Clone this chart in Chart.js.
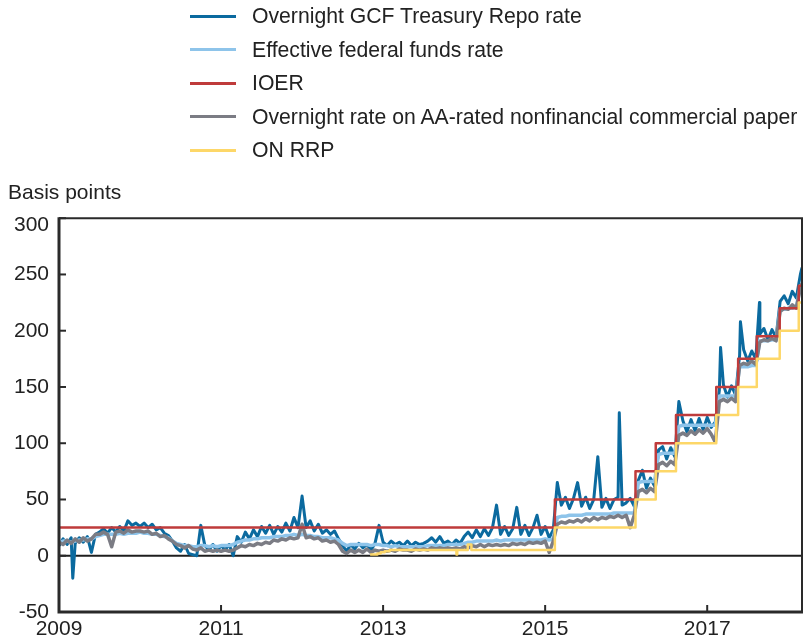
<!DOCTYPE html>
<html>
<head>
<meta charset="utf-8">
<script src="https://cdn.jsdelivr.net/npm/chart.js@4.4.1/dist/chart.umd.min.js"></script>
<style>
html,body{margin:0;padding:0;background:#fff;}
#wrap{position:relative;width:803px;height:644px;overflow:hidden;font-family:"Liberation Sans",Arial,sans-serif;}
#chart{position:absolute;left:0;top:0;}
#legend{position:absolute;left:190px;top:0;}
.item{position:absolute;left:0;height:34px;white-space:nowrap;display:flex;align-items:center;}
.swatch{width:46px;height:3px;margin-right:16px;}
.lbl{font-size:21.2px;color:#222;}
</style>
</head>
<body>
<div id="wrap"><canvas id="chart" width="803" height="644"></canvas><div id="legend"></div></div>
<script>
// ---- shared date grid (chart's own decimal-year axis) ----
const dates = [
2009.00,2009.05,2009.10,2009.15,2009.20,2009.25,2009.30,2009.35,2009.40,2009.45,
2009.50,2009.55,2009.60,2009.65,2009.70,2009.75,2009.80,2009.85,2009.90,2009.95,
2010.00,2010.05,2010.10,2010.15,2010.20,2010.25,2010.30,2010.35,2010.40,2010.45,
2010.50,2010.55,2010.60,2010.65,2010.70,2010.75,2010.80,2010.85,2010.90,2010.95,
2011.00,2011.05,2011.10,2011.15,2011.20,2011.25,2011.30,2011.35,2011.40,2011.45,
2011.50,2011.55,2011.60,2011.65,2011.70,2011.75,2011.80,2011.85,2011.90,2011.95,
2012.00,2012.05,2012.10,2012.15,2012.20,2012.25,2012.30,2012.35,2012.40,2012.45,
2012.50,2012.55,2012.60,2012.65,2012.70,2012.75,2012.80,2012.85,2012.90,2012.95,
2013.00,2013.05,2013.10,2013.15,2013.20,2013.25,2013.30,2013.35,2013.40,2013.45,
2013.50,2013.55,2013.60,2013.65,2013.70,2013.75,2013.80,2013.85,2013.90,2013.95,
2014.00,2014.05,2014.10,2014.15,2014.20,2014.25,2014.30,2014.35,2014.40,2014.45,
2014.50,2014.55,2014.60,2014.65,2014.70,2014.75,2014.80,2014.85,2014.90,2014.95,
2015.00,2015.05,2015.10,2015.15,2015.20,2015.25,2015.30,2015.35,2015.40,2015.45,
2015.50,2015.55,2015.60,2015.65,2015.70,2015.75,2015.80,2015.85,2015.90,2015.95,
2016.00,2016.05,2016.10,2016.15,2016.20,2016.25,2016.30,2016.35,2016.40,2016.45,
2016.50,2016.55,2016.60,2016.65,2016.70,2016.75,2016.80,2016.85,2016.90,2016.95,
2017.00,2017.05,2017.10,2017.15,2017.20,2017.25,2017.30,2017.35,2017.40,2017.45,
2017.50,2017.55,2017.60,2017.65,2017.70,2017.75,2017.80,2017.85,2017.90,2017.95,
2018.00,2018.05,2018.10,2018.15,2018.17
];

// Overnight GCF Treasury Repo rate
const gcfValues = [
9,15,10,16,11,16,12,17,3,19,
21,24,20,25,21,26,22,31,27,29,
26,29,25,28,23,25,20,18,13,7,
4,10,2,1,0,27,9,5,10,4,
9,5,10,0,17,12,21,15,23,17,
26,20,27,19,26,21,29,22,34,25,
53,25,31,22,28,20,23,19,22,15,
9,4,10,6,11,7,10,5,11,27,
12,9,13,10,12,9,13,9,12,10,
11,13,16,12,17,11,13,10,14,11,
17,21,16,23,17,24,18,25,45,19,
26,18,24,43,19,27,18,25,36,19,
26,16,23,65,45,52,42,51,65,44,
52,42,50,88,43,51,42,50,52,45,
47,51,44,67,76,60,69,62,94,97,
86,96,88,137,120,110,121,111,122,112,
123,114,119,147,152,141,151,143,178,183,
173,182,175,197,202,192,201,194,226,231,
224,235,229,250,256
];
const gcfSpikeDates  = [2009.17, 2015.915, 2017.165, 2017.41, 2017.645];
const gcfSpikeValues = [-20, 127, 185, 208, 225];

// Effective federal funds rate
const effrValues = [
12,13,13,12,13,14,14,15,15,17,
18,19,19,19,19,20,19,20,20,20,
21,20,20,19,19,18,17,16,13,11,
10,9,9,8,8,9,9,8,9,8,
9,9,9,10,12,13,14,14,15,15,
16,16,16,17,17,17,18,18,19,18,
19,18,18,17,17,16,16,16,15,14,
11,9,10,10,10,10,10,9,10,10,
9,9,8,9,8,8,8,8,8,8,
8,9,9,9,9,9,10,10,10,10,
11,12,12,13,13,13,13,13,14,13,
14,14,14,14,14,14,14,14,14,14,
15,14,15,34,35,35,36,36,36,36,
37,37,37,37,37,37,37,38,38,38,
38,38,38,65,66,66,66,66,90,91,
91,91,91,115,116,116,116,116,116,116,
116,116,116,142,142,142,142,142,168,168,
168,169,169,191,191,191,192,192,219,219,
220,220,221,240,241
];

// Overnight rate on AA-rated nonfinancial commercial paper
const cpValues = [
12,10,14,11,15,12,16,13,15,19,
19,21,19,8,21,22,20,23,21,22,
22,21,22,19,20,17,18,15,13,10,
9,7,9,6,5,7,4,5,4,5,
4,5,4,5,7,9,8,10,9,11,
10,12,11,14,13,15,14,16,15,16,
28,16,17,15,16,13,14,12,13,10,
4,2,5,3,5,3,6,3,5,4,
5,4,5,4,6,5,5,4,6,5,
6,5,7,6,7,6,7,6,7,6,
8,7,9,8,10,8,10,9,10,9,
10,9,11,10,11,10,12,11,12,11,
13,3,13,28,30,29,31,30,32,30,
33,31,34,32,34,33,35,34,36,34,
36,25,36,57,59,56,60,57,81,83,
80,84,81,107,109,107,111,108,112,109,
113,108,101,137,139,137,140,137,169,171,
170,173,170,190,192,191,193,191,217,220,
219,223,220,238,242
];

// IOER (step changes)
const ioerDates  = [2009.00, 2015.12, 2016.115, 2016.365, 2016.615, 2017.112, 2017.382, 2017.612, 2017.895, 2018.13, 2018.17];
const ioerValues = [25, 50, 75, 100, 125, 150, 175, 195, 220, 240, 240];

// ON RRP (step changes)
const rrpDates  = [2012.84, 2012.93, 2012.97, 2013.02, 2013.08, 2013.905, 2013.915, 2014.045, 2014.09, 2015.12, 2016.115, 2016.365, 2016.615, 2017.112, 2017.382, 2017.612, 2017.895, 2018.13, 2018.17];
const rrpValues = [1, 2, 3, 4, 5, 1, 5, 10, 5, 25, 50, 75, 100, 125, 150, 175, 200, 225, 225];

const xTickYears = [2009, 2011, 2013, 2015, 2017];
const yTitle = 'Basis points';

const seriesNames = [
  'Overnight GCF Treasury Repo rate',
  'Effective federal funds rate',
  'IOER',
  'Overnight rate on AA-rated nonfinancial commercial paper',
  'ON RRP'
];
const seriesColors = ['#0b6a9f', '#8ec4ea', '#bf3b3b', '#7b7c84', '#fdd768'];

const FONT = '"Liberation Sans", Arial, sans-serif';
const TXT = '#222';

function pts(xs, ys) { return xs.map((x, i) => ({ x: x, y: ys[i] })); }

const gcfPts = pts(dates, gcfValues).concat(pts(gcfSpikeDates, gcfSpikeValues)).sort((a, b) => a.x - b.x);

const datasets = [
  { label: seriesNames[0], data: gcfPts, borderColor: seriesColors[0], borderWidth: 3, order: 5 },
  { label: seriesNames[1], data: pts(dates, effrValues), borderColor: seriesColors[1], borderWidth: 3.5, order: 4 },
  { label: seriesNames[2], data: pts(ioerDates, ioerValues), borderColor: seriesColors[2], borderWidth: 2.5, stepped: true, order: 2 },
  { label: seriesNames[3], data: pts(dates, cpValues), borderColor: seriesColors[3], borderWidth: 3.5, order: 3 },
  { label: seriesNames[4], data: pts(rrpDates, rrpValues), borderColor: seriesColors[4], borderWidth: 2.5, stepped: true, order: 1 }
].map(d => Object.assign({ pointRadius: 0, fill: false, tension: 0, borderJoinStyle: 'round', borderCapStyle: 'butt' }, d));

const framePlugin = {
  id: 'frame',
  beforeDatasetsDraw(chart) {
    const { ctx, chartArea: a, scales: { y } } = chart;
    const y0 = y.getPixelForValue(0);
    ctx.save();
    ctx.strokeStyle = '#1e1e1e';
    ctx.lineWidth = 2;
    ctx.beginPath(); ctx.moveTo(a.left, y0); ctx.lineTo(a.right, y0); ctx.stroke();
    ctx.restore();
  },
  afterDraw(chart) {
    const { ctx, chartArea: a, scales: { x, y } } = chart;
    ctx.save();
    ctx.strokeStyle = '#2a2a2a';
    ctx.lineCap = 'butt';
    ctx.lineWidth = 2;
    ctx.beginPath(); ctx.moveTo(a.left, a.top); ctx.lineTo(a.right, a.top); ctx.lineTo(a.right, a.bottom); ctx.stroke();
    ctx.lineWidth = 3;
    ctx.beginPath(); ctx.moveTo(a.left, a.top - 1); ctx.lineTo(a.left, a.bottom); ctx.lineTo(a.right + 1, a.bottom); ctx.stroke();
    ctx.lineWidth = 2;
    y.ticks.forEach(t => {
      const py = y.getPixelForValue(t.value);
      ctx.beginPath(); ctx.moveTo(a.left, py); ctx.lineTo(a.left + 7, py); ctx.stroke();
    });
    x.ticks.forEach(t => {
      if (t.value === x.min) return;
      const px = x.getPixelForValue(t.value);
      ctx.beginPath(); ctx.moveTo(px, a.bottom); ctx.lineTo(px, a.bottom - 7); ctx.stroke();
    });
    ctx.restore();
  }
};

const chart = new Chart(document.getElementById('chart'), {
  type: 'line',
  data: { datasets: datasets },
  options: {
    responsive: false,
    animation: false,
    layout: { padding: { left: 8, right: 1, top: 181, bottom: 0 } },
    plugins: {
      legend: { display: false },
      tooltip: { enabled: false },
      title: {
        display: true, text: yTitle, align: 'start', color: TXT,
        font: { family: FONT, size: 21, weight: 'normal' },
        padding: { top: 0, bottom: 12 }
      }
    },
    scales: {
      x: {
        type: 'linear', min: 2009, max: 2018.17,
        grid: { display: false, drawTicks: false },
        border: { display: false },
        ticks: { padding: 5, color: TXT, font: { family: FONT, size: 21 }, autoSkip: false, maxRotation: 0,
                 callback: v => String(v) },
        afterBuildTicks: s => { s.ticks = xTickYears.map(v => ({ value: v })); },
        afterFit: s => { s.height = 32; }
      },
      y: {
        min: -50, max: 300,
        grid: { display: false, drawTicks: false },
        border: { display: false },
        ticks: { stepSize: 50, padding: 10, color: TXT, font: { family: FONT, size: 21, lineHeight: 0.62 },
                 callback: v => (v === 300 ? ['', String(v)] : String(v)) },
        afterFit: s => { s.width = 51; }
      }
    }
  },
  plugins: [framePlugin]
});

// HTML legend built from the chart datasets
const legendEl = document.getElementById('legend');
chart.data.datasets.forEach((d, i) => {
  const row = document.createElement('div');
  row.className = 'item';
  row.style.top = (i * 33.5 - 1) + 'px';
  const sw = document.createElement('span');
  sw.className = 'swatch';
  sw.style.background = d.borderColor;
  const lb = document.createElement('span');
  lb.className = 'lbl';
  lb.textContent = d.label;
  row.appendChild(sw); row.appendChild(lb);
  legendEl.appendChild(row);
});
</script>
</body>
</html>
